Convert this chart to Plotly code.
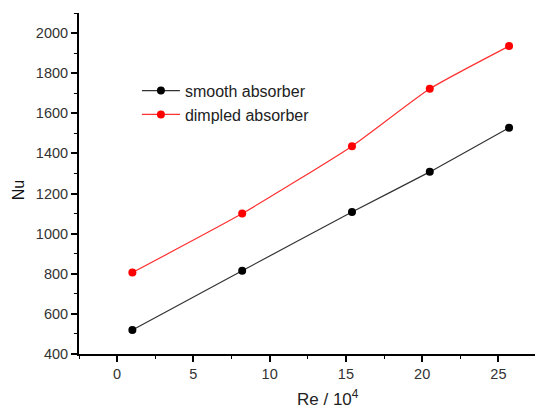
import plotly.graph_objects as go

re_vals = [1.0, 8.2, 15.4, 20.5, 25.7]
nu_smooth = [520, 815, 1108, 1308, 1528]
nu_dimpled = [806, 1100, 1436, 1722, 1935]
x_ticks = [0, 5, 10, 15, 20, 25]
y_ticks = [400, 600, 800, 1000, 1200, 1400, 1600, 1800, 2000]

FONT = "Liberation Sans, Arial"

fig = go.Figure()
fig.add_trace(go.Scatter(x=re_vals, y=nu_smooth, mode="lines+markers",
                         name="smooth absorber",
                         line=dict(color="#333333", width=1.2, shape="spline", smoothing=0.5),
                         marker=dict(color="black", size=8)))
fig.add_trace(go.Scatter(x=re_vals, y=nu_dimpled, mode="lines+markers",
                         name="dimpled absorber",
                         line=dict(color="#ff3030", width=1.2, shape="spline", smoothing=0.5),
                         marker=dict(color="red", size=8)))

axis_common = dict(showline=True, linecolor="black", linewidth=2, ticks="outside",
                   ticklen=6, tickwidth=1.5, tickcolor="black", showgrid=False, zeroline=False,
                   tickfont=dict(family=FONT, size=14.5, color="#333333"),
                   mirror=False)

fig.update_xaxes(range=[-2.5, 27.4], tickvals=x_ticks, ticktext=[str(v) for v in x_ticks],
                 minor=dict(dtick=2.5, ticks="outside", ticklen=3, tickcolor="black", tickwidth=1.2),
                 **axis_common)
fig.update_yaxes(range=[400, 2100], tickvals=y_ticks, ticktext=[str(v) for v in y_ticks],
                 minor=dict(dtick=100, ticks="outside", ticklen=3, tickcolor="black", tickwidth=1.2),
                 **axis_common)

fig.add_annotation(text="Re / 10<sup>4</sup>", xref="paper", yref="paper",
                   x=0.546, y=-0.13, xanchor="center", yanchor="middle", showarrow=False,
                   font=dict(family=FONT, size=17, color="#222"))
fig.add_annotation(text="Nu", xref="paper", yref="paper",
                   x=-0.134, y=0.48, xanchor="center", yanchor="middle", showarrow=False,
                   textangle=-90, font=dict(family=FONT, size=16, color="#111"))

fig.update_layout(width=536, height=408, margin=dict(l=79, r=1, t=13, b=54),
                  plot_bgcolor="white", paper_bgcolor="white",
                  showlegend=True,
                  legend=dict(x=0.127, y=0.822, xanchor="left", yanchor="top",
                              bgcolor="rgba(0,0,0,0)", tracegroupgap=0, itemwidth=38,
                              font=dict(family=FONT, size=16, color="#222")))

fig.write_html("out.html")
